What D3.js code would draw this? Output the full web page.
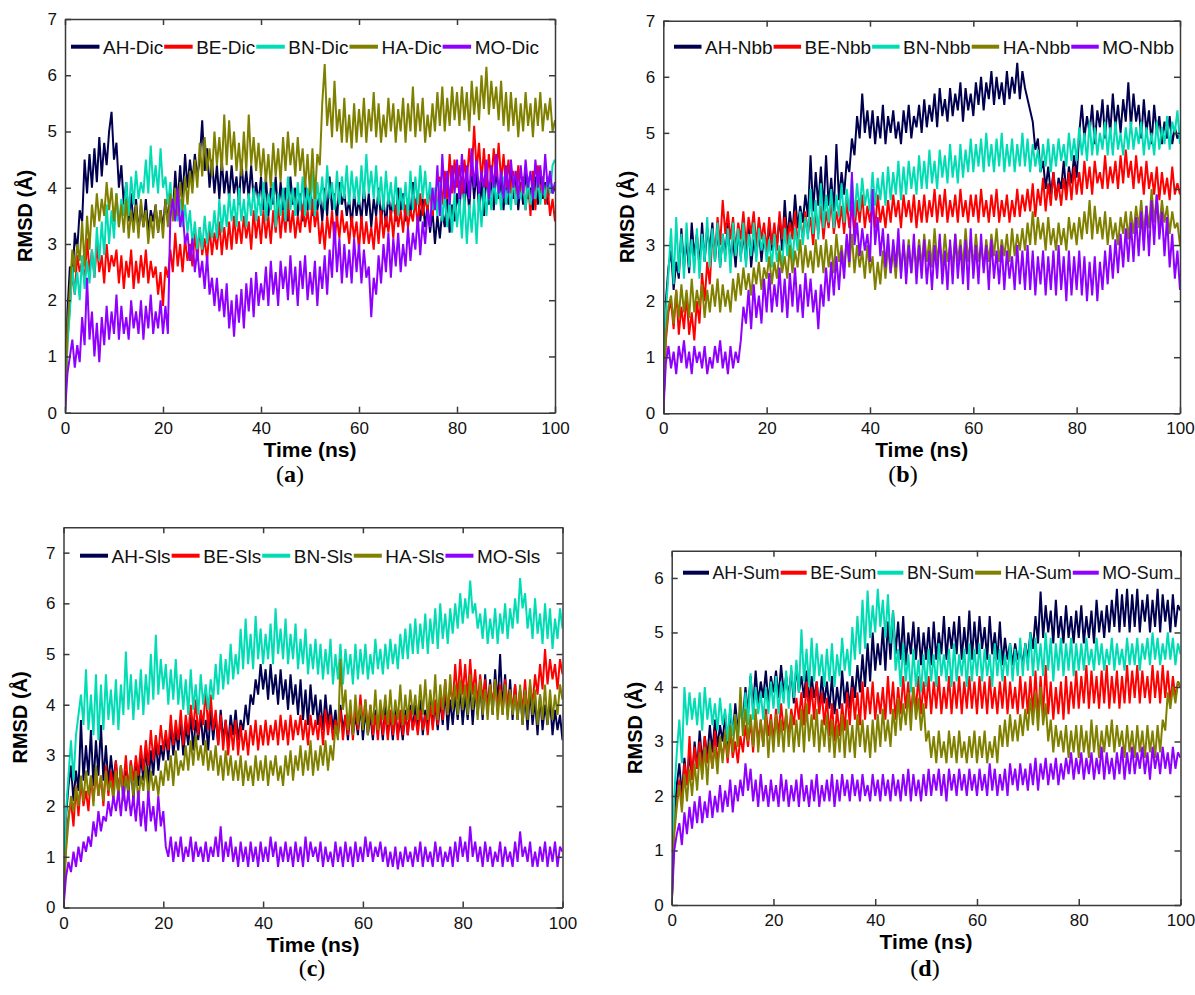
<!DOCTYPE html>
<html>
<head>
<meta charset="utf-8">
<script src="https://cdn.jsdelivr.net/npm/d3@7"></script>
<style>
	body { margin: 0; background: #fff; }
	svg { display: block; font-family: Arial, 'Liberation Sans', sans-serif; }
</style>
</head>
<body>
<script>
// -----------------------------DATA (RMSD in Å, one frame every 0.5 ns)--------------------------------

const timeNs = d3.range(0, 100.5, 0.5);
const groups = ['AH', 'BE', 'BN', 'HA', 'MO'];
const groupColors = ['#00004f', '#ff0000', '#00dcb4', '#808000', '#8f00ff'];
const xTicks = [0, 20, 40, 60, 80, 100];
const yTicks7 = [0, 1, 2, 3, 4, 5, 6, 7];
const yTicks6 = [0, 1, 2, 3, 4, 5, 6];

// (a) Dic, each row holds 10 ns
const ahDic = [0,
	1.8, 2.6, 2.3, 3.2, 2.9, 3.6, 3.4, 4.5, 3.9, 4.6, 4.0, 4.7, 4.1, 4.9, 4.2, 4.8, 4.4, 5.0, 5.35, 4.5,
	4.8, 4.0, 4.4, 3.7, 4.1, 3.4, 3.9, 3.3, 3.8, 3.2, 3.7, 3.3, 3.8, 3.2, 3.6, 3.4, 3.7, 3.2, 3.6, 3.3,
	3.8, 3.4, 3.9, 3.5, 4.3, 3.7, 4.4, 3.8, 4.6, 4.0, 4.5, 4.1, 4.6, 4.2, 4.5, 5.2, 4.3, 4.7, 4.0, 4.5,
	3.9, 4.4, 3.8, 4.5, 3.9, 4.3, 3.8, 4.4, 3.9, 4.2, 3.7, 4.5, 3.9, 4.3, 3.8, 4.4, 3.8, 4.1, 3.7, 4.2,
	3.6, 4.2, 3.5, 4.0, 3.7, 4.2, 3.5, 4.1, 3.6, 4.0, 3.4, 4.2, 3.7, 4.0, 3.5, 3.9, 3.4, 4.1, 3.6, 4.0,
	3.5, 4.1, 3.6, 3.9, 3.4, 4.0, 3.5, 4.2, 3.6, 3.9, 3.4, 4.1, 3.7, 3.9, 3.5, 3.8, 3.3, 3.9, 3.5, 3.8,
	3.4, 4.0, 3.5, 3.9, 3.3, 3.8, 3.5, 4.0, 3.4, 3.8, 3.3, 3.9, 3.5, 3.8, 3.4, 4.0, 3.6, 3.9, 3.4, 3.8,
	3.5, 4.1, 3.6, 3.9, 3.4, 3.8, 3.3, 3.7, 3.2, 3.6, 3.0, 3.5, 3.1, 3.6, 3.3, 3.8, 3.2, 3.7, 3.4, 3.9,
	3.6, 4.2, 3.7, 4.1, 3.6, 4.4, 3.8, 4.3, 3.6, 4.1, 3.5, 4.3, 3.7, 4.2, 3.6, 4.4, 3.8, 4.1, 3.6, 4.2,
	3.7, 4.3, 3.8, 4.2, 3.6, 4.1, 3.7, 4.3, 3.8, 4.0, 3.6, 4.2, 3.7, 4.3, 3.8, 4.1, 3.7, 4.2, 3.9, 4.0];
const beDic = [0,
	1.3, 1.9, 2.5, 2.1, 2.8, 2.5, 2.7, 2.3, 3.1, 2.5, 2.9, 2.4, 3.0, 2.5, 2.8, 2.3, 3.0, 2.5, 2.8, 2.6,
	2.9, 2.3, 2.8, 2.2, 2.7, 2.4, 2.9, 2.2, 2.7, 2.3, 2.8, 2.4, 2.9, 2.3, 2.7, 2.4, 2.6, 2.1, 2.5, 1.9,
	2.6, 2.4, 2.9, 2.5, 3.2, 2.6, 3.0, 2.5, 3.1, 2.7, 3.0, 2.6, 3.2, 2.7, 3.3, 2.8, 3.1, 2.7, 3.3, 2.8,
	3.2, 2.9, 3.4, 2.8, 3.3, 2.9, 3.4, 2.9, 3.5, 3.0, 3.4, 3.0, 3.5, 3.1, 3.4, 2.9, 3.6, 3.1, 3.5, 3.0,
	3.6, 3.1, 3.5, 3.0, 3.6, 3.2, 3.7, 3.1, 3.6, 3.2, 3.8, 3.2, 3.6, 3.1, 3.5, 3.2, 3.7, 3.3, 3.6, 3.2,
	3.8, 3.3, 3.6, 3.0, 3.4, 2.9, 3.5, 3.1, 3.6, 3.0, 3.5, 3.1, 3.6, 3.2, 3.4, 3.0, 3.5, 3.1, 3.4, 2.9,
	3.5, 3.0, 3.4, 3.0, 3.3, 2.9, 3.5, 3.0, 3.6, 3.1, 3.5, 3.2, 3.6, 3.1, 3.7, 3.3, 3.6, 3.2, 3.7, 3.3,
	3.6, 3.4, 3.8, 3.3, 3.9, 3.5, 3.8, 3.6, 4.0, 3.5, 3.9, 3.6, 4.2, 3.7, 4.3, 3.8, 4.6, 3.9, 4.5, 4.0,
	4.4, 3.9, 4.5, 4.1, 4.7, 4.2, 5.1, 4.3, 4.8, 4.1, 4.7, 4.0, 4.6, 4.1, 4.7, 4.2, 4.8, 4.1, 4.6, 4.0,
	4.5, 3.9, 4.3, 3.7, 4.4, 3.8, 4.2, 3.6, 4.1, 3.5, 4.3, 3.6, 4.4, 3.8, 4.2, 3.7, 4.0, 3.5, 3.8, 3.4];
const bnDic = [0,
	1.2, 1.8, 2.6, 2.1, 2.5, 2.0, 2.8, 2.2, 2.7, 2.3, 2.9, 2.4, 3.3, 2.7, 3.4, 2.8, 3.7, 3.0, 3.6, 3.1,
	3.9, 3.3, 3.8, 3.5, 4.1, 3.5, 4.2, 3.7, 4.3, 3.8, 4.1, 3.9, 4.5, 3.9, 4.75, 4.0, 4.4, 3.9, 4.7, 4.0,
	4.2, 3.7, 4.1, 3.5, 3.9, 3.4, 3.8, 3.3, 3.7, 3.2, 3.6, 3.0, 3.4, 2.9, 3.3, 2.9, 3.5, 3.0, 3.4, 3.1,
	3.6, 3.1, 3.8, 3.2, 3.7, 3.3, 3.9, 3.4, 3.8, 3.3, 4.0, 3.4, 3.8, 3.3, 3.9, 3.5, 4.0, 3.4, 3.9, 3.5,
	4.1, 3.4, 3.9, 3.6, 4.1, 3.3, 3.9, 3.5, 4.0, 3.4, 4.2, 3.6, 4.0, 3.5, 4.1, 3.6, 4.2, 3.5, 4.0, 3.6,
	4.3, 3.5, 4.1, 3.7, 4.2, 3.6, 4.4, 3.8, 4.1, 3.6, 4.3, 3.7, 4.2, 3.8, 4.4, 3.7, 4.3, 3.8, 4.2, 3.7,
	4.4, 3.8, 4.6, 3.9, 4.3, 3.8, 4.4, 3.7, 4.2, 3.6, 4.3, 3.7, 4.1, 3.6, 4.2, 3.5, 4.0, 3.6, 4.1, 3.5,
	4.3, 3.6, 4.2, 3.7, 4.4, 3.8, 4.3, 3.7, 4.1, 3.6, 4.0, 3.5, 4.1, 3.4, 3.9, 3.3, 3.8, 3.2, 3.9, 3.3,
	3.8, 3.1, 3.9, 3.0, 3.7, 3.2, 3.8, 3.0, 3.9, 3.3, 4.0, 3.5, 4.1, 3.6, 4.2, 3.7, 4.1, 3.6, 4.2, 3.7,
	4.1, 3.6, 4.2, 3.7, 4.0, 3.8, 4.1, 3.6, 4.2, 3.7, 4.0, 3.8, 4.2, 3.7, 4.1, 3.8, 4.2, 3.9, 4.4, 4.5];
const haDic = [0,
	1.5, 2.2, 2.9, 2.5, 3.0, 2.7, 3.4, 2.6, 3.5, 2.9, 3.7, 3.3, 3.9, 3.4, 3.8, 3.5, 4.1, 3.6, 4.0, 3.4,
	3.9, 3.3, 3.7, 3.2, 3.8, 3.1, 3.6, 3.2, 3.7, 3.1, 3.8, 3.3, 3.6, 3.0, 3.5, 3.1, 3.7, 3.2, 3.6, 3.1,
	3.8, 3.3, 3.9, 3.4, 4.0, 3.5, 4.1, 3.6, 4.2, 3.7, 4.3, 3.9, 4.5, 4.0, 4.8, 4.2, 4.9, 4.3, 4.7, 4.2,
	5.0, 4.4, 4.9, 4.3, 5.3, 4.4, 5.2, 4.5, 5.0, 4.3, 4.8, 4.2, 5.0, 4.3, 5.3, 4.4, 4.9, 4.3, 4.8, 4.2,
	4.7, 4.1, 4.6, 4.0, 4.8, 4.2, 4.7, 4.1, 4.9, 4.3, 5.0, 4.4, 4.8, 4.2, 4.9, 4.3, 4.7, 4.0, 4.6, 3.9,
	4.7, 3.8, 4.6, 4.4, 5.5, 6.2, 5.1, 5.6, 4.9, 5.9, 5.0, 5.4, 4.8, 5.6, 4.8, 5.3, 4.7, 5.5, 4.8, 5.4,
	4.9, 5.6, 4.8, 5.4, 5.0, 5.7, 4.9, 5.5, 4.8, 5.3, 4.9, 5.6, 5.0, 5.5, 4.8, 5.4, 5.0, 5.6, 4.8, 5.5,
	5.0, 5.8, 4.9, 5.5, 5.0, 5.6, 4.8, 5.3, 4.9, 5.5, 5.0, 5.7, 5.1, 5.8, 5.0, 5.6, 5.1, 5.8, 5.2, 5.7,
	5.1, 5.8, 5.2, 5.7, 5.0, 5.9, 5.3, 5.8, 5.2, 6.0, 5.4, 6.15, 5.3, 5.9, 5.4, 5.8, 5.2, 5.9, 5.1, 5.7,
	5.0, 5.7, 5.1, 5.6, 4.9, 5.5, 5.0, 5.7, 5.1, 5.5, 4.9, 5.6, 5.1, 5.7, 5.0, 5.5, 5.2, 5.6, 5.0, 5.2];
const moDic = [0,
	0.7, 1.0, 1.3, 0.8, 1.2, 0.9, 1.7, 1.2, 2.4, 1.3, 1.8, 1.0, 1.6, 0.9, 1.7, 1.2, 1.9, 1.3, 1.8, 1.4,
	2.1, 1.3, 1.9, 1.4, 1.7, 1.3, 2.0, 1.5, 1.8, 1.4, 2.0, 1.3, 1.9, 1.5, 2.1, 1.4, 1.8, 1.5, 2.0, 1.4,
	1.9, 1.4, 3.5, 3.8, 3.4, 4.0, 3.3, 3.6, 3.0, 3.2, 2.7, 3.1, 2.5, 2.9, 2.4, 2.7, 2.2, 2.8, 2.1, 2.4,
	1.9, 2.4, 1.8, 2.2, 1.7, 2.3, 1.5, 2.0, 1.35, 2.1, 1.6, 2.2, 1.5, 2.3, 1.8, 2.4, 1.7, 2.5, 1.9, 2.3,
	2.0, 2.6, 1.9, 2.7, 2.1, 2.5, 1.9, 2.7, 2.2, 2.6, 2.0, 2.8, 2.1, 2.6, 1.9, 2.7, 2.2, 2.8, 2.0, 2.5,
	2.1, 2.7, 1.9, 2.6, 2.2, 2.8, 2.1, 2.9, 2.4, 3.4, 2.5, 3.1, 2.3, 3.0, 2.4, 2.9, 2.3, 3.1, 2.5, 3.0,
	2.3, 2.9, 2.4, 2.6, 1.7, 2.4, 2.1, 2.8, 2.3, 3.0, 2.5, 3.2, 2.4, 3.1, 2.6, 3.2, 2.5, 3.0, 2.6, 3.3,
	2.7, 3.2, 2.9, 3.5, 2.8, 3.4, 3.0, 3.6, 3.3, 4.0, 3.6, 4.4, 3.5, 4.6, 3.8, 4.3, 3.7, 4.4, 3.9, 4.5,
	3.8, 4.6, 3.9, 4.4, 3.8, 4.7, 4.0, 4.5, 3.9, 4.3, 4.0, 4.5, 3.8, 4.4, 4.0, 4.6, 3.9, 4.3, 3.8, 4.4,
	3.9, 4.5, 4.0, 4.3, 3.8, 4.4, 3.9, 4.5, 4.0, 4.3, 3.8, 4.5, 4.0, 4.4, 3.9, 4.6, 4.0, 4.3, 3.9, 4.1];

// (b) Nbb
const ahNbb = [0,
	2.0, 2.6, 2.9, 2.2, 2.7, 2.4, 3.3, 2.6, 3.1, 2.5, 3.4, 2.8, 3.2, 2.6, 3.4, 2.7, 3.3, 2.9, 3.4, 2.7,
	3.3, 2.6, 3.2, 2.8, 3.4, 2.7, 3.1, 2.6, 3.3, 2.8, 3.2, 2.7, 3.4, 2.6, 3.1, 2.8, 3.3, 2.7, 3.2, 2.8,
	3.4, 2.9, 3.3, 3.0, 3.5, 2.9, 3.8, 3.1, 3.6, 3.2, 3.9, 3.3, 3.7, 3.4, 3.9, 3.5, 4.6, 3.6, 4.3, 3.7,
	4.4, 3.6, 4.6, 3.7, 4.2, 3.6, 4.8, 3.8, 4.3, 3.9, 4.5, 4.3, 4.9, 4.6, 5.3, 4.9, 5.7, 5.0, 5.4, 4.9,
	5.4, 4.8, 5.3, 4.9, 5.5, 4.8, 5.3, 5.0, 5.4, 4.9, 5.2, 4.8, 5.4, 5.0, 5.5, 4.9, 5.3, 5.1, 5.5, 5.0,
	5.6, 5.1, 5.5, 5.2, 5.7, 5.1, 5.8, 5.3, 5.6, 5.2, 5.8, 5.3, 5.7, 5.4, 5.9, 5.2, 5.8, 5.4, 5.7, 5.3,
	5.9, 5.5, 6.0, 5.4, 5.9, 5.6, 6.1, 5.5, 6.0, 5.6, 5.9, 5.5, 6.1, 5.6, 6.0, 5.7, 6.25, 5.6, 6.1, 5.8,
	5.6, 5.4, 5.2, 4.7, 4.9, 4.3, 4.5, 4.0, 4.4, 3.9, 4.3, 3.8, 4.2, 4.0, 4.5, 3.9, 4.4, 4.1, 4.6, 4.2,
	5.0, 5.5, 4.9, 5.3, 5.0, 5.5, 4.8, 5.4, 5.1, 5.6, 4.9, 5.5, 5.0, 5.7, 5.1, 5.5, 5.0, 5.6, 5.2, 5.9,
	5.1, 5.7, 5.2, 5.5, 4.9, 5.6, 5.0, 5.4, 4.8, 5.5, 5.0, 5.3, 4.8, 5.2, 4.9, 5.3, 4.8, 5.1, 4.9, 5.0];
const beNbb = [0,
	1.3, 1.8, 2.0, 1.5, 2.2, 1.4, 1.9, 1.5, 2.1, 1.4, 1.8, 1.3, 2.0, 1.6, 2.5, 2.0, 2.7, 2.3, 3.2, 2.8,
	3.5, 3.0, 3.8, 3.2, 3.6, 3.1, 3.5, 2.9, 3.4, 3.1, 3.6, 3.0, 3.5, 3.2, 3.6, 3.0, 3.5, 3.1, 3.4, 2.9,
	3.5, 3.0, 3.4, 2.9, 3.6, 3.1, 3.5, 3.0, 3.4, 3.1, 3.6, 3.0, 3.5, 3.1, 3.6, 3.2, 3.5, 3.0, 3.6, 3.2,
	3.7, 3.1, 3.6, 3.3, 3.8, 3.2, 3.6, 3.3, 3.7, 3.2, 3.8, 3.3, 3.7, 3.2, 3.8, 3.4, 3.9, 3.3, 3.7, 3.4,
	3.8, 3.3, 3.9, 3.4, 3.7, 3.3, 3.8, 3.4, 3.9, 3.5, 3.8, 3.3, 3.9, 3.5, 3.8, 3.4, 3.9, 3.3, 3.8, 3.4,
	3.9, 3.4, 3.8, 3.5, 4.0, 3.4, 3.9, 3.5, 4.0, 3.4, 3.8, 3.5, 3.9, 3.4, 4.0, 3.5, 3.8, 3.4, 3.9, 3.5,
	3.9, 3.4, 4.0, 3.5, 3.8, 3.4, 3.9, 3.5, 4.0, 3.4, 3.8, 3.5, 3.9, 3.4, 3.8, 3.5, 4.0, 3.5, 3.9, 3.6,
	4.0, 3.6, 4.1, 3.5, 4.0, 3.7, 4.2, 3.6, 4.1, 3.7, 4.3, 3.8, 4.1, 3.7, 4.2, 3.8, 4.3, 3.8, 4.4, 3.9,
	4.3, 3.9, 4.5, 4.0, 4.4, 3.9, 4.5, 4.1, 4.3, 4.0, 4.6, 4.0, 4.4, 4.1, 4.5, 4.0, 4.6, 4.1, 4.7, 4.2,
	4.5, 4.0, 4.6, 4.1, 4.4, 3.9, 4.5, 4.0, 4.3, 3.9, 4.4, 3.8, 4.3, 3.9, 4.2, 3.8, 4.4, 3.9, 4.1, 3.9];
const bnNbb = [0,
	1.8, 2.5, 3.3, 2.3, 3.5, 2.5, 3.2, 2.4, 3.4, 2.6, 3.1, 2.5, 3.3, 2.4, 3.2, 2.7, 3.5, 2.6, 3.3, 2.7,
	3.4, 2.6, 3.2, 2.7, 3.3, 2.5, 3.4, 2.8, 3.3, 2.7, 3.4, 2.6, 3.2, 2.8, 3.4, 2.7, 3.3, 2.9, 3.2, 2.7,
	3.1, 2.6, 3.2, 2.7, 3.0, 2.6, 3.3, 2.8, 3.2, 2.7, 3.3, 2.9, 3.6, 3.0, 3.5, 3.1, 4.0, 3.2, 3.8, 3.1,
	4.1, 3.3, 3.9, 3.4, 4.0, 3.3, 3.9, 3.5, 4.1, 3.4, 4.0, 3.6, 4.2, 3.5, 4.1, 3.6, 4.2, 3.7, 4.0, 3.6,
	4.3, 3.7, 4.2, 3.8, 4.3, 3.7, 4.4, 3.8, 4.3, 3.9, 4.5, 3.8, 4.4, 3.9, 4.5, 4.0, 4.4, 3.9, 4.6, 4.0,
	4.5, 4.0, 4.7, 4.1, 4.5, 4.0, 4.7, 4.2, 4.6, 4.1, 4.8, 4.2, 4.6, 4.1, 4.8, 4.2, 4.7, 4.3, 4.9, 4.3,
	4.8, 4.4, 4.9, 4.3, 5.0, 4.4, 4.8, 4.3, 4.9, 4.4, 5.0, 4.3, 4.8, 4.4, 4.9, 4.3, 4.8, 4.4, 5.0, 4.4,
	4.9, 4.3, 4.8, 4.4, 4.7, 4.3, 4.8, 4.4, 4.9, 4.3, 4.8, 4.4, 4.9, 4.5, 4.8, 4.4, 5.0, 4.5, 4.9, 4.5,
	5.1, 4.6, 5.0, 4.5, 5.2, 4.6, 5.1, 4.6, 5.0, 4.7, 5.2, 4.6, 5.1, 4.6, 5.2, 4.7, 5.0, 4.6, 5.1, 4.7,
	5.2, 4.7, 5.1, 4.8, 5.2, 4.6, 5.1, 4.7, 5.0, 4.6, 5.2, 4.7, 5.1, 4.8, 5.3, 4.7, 5.2, 5.0, 5.4, 4.8];
const haNbb = [0,
	1.4, 1.9, 2.1, 1.6, 2.2, 1.7, 2.3, 1.8, 2.2, 1.7, 2.4, 1.8, 2.2, 1.9, 2.3, 1.7, 2.2, 1.8, 2.3, 1.9,
	2.4, 1.8, 2.3, 1.9, 2.2, 1.8, 2.4, 2.0, 2.5, 2.1, 2.6, 2.2, 2.5, 2.1, 2.6, 2.3, 2.7, 2.2, 2.6, 2.4,
	2.8, 2.3, 2.7, 2.4, 2.9, 2.5, 2.8, 2.4, 3.0, 2.5, 2.9, 2.6, 3.1, 2.5, 3.0, 2.6, 2.9, 2.5, 3.1, 2.6,
	3.0, 2.5, 3.1, 2.6, 3.0, 2.5, 3.2, 2.7, 3.0, 2.6, 3.1, 2.6, 3.2, 2.5, 3.0, 2.6, 2.9, 2.4, 3.0, 2.5,
	2.8, 2.2, 2.7, 2.3, 2.9, 2.4, 3.0, 2.5, 2.9, 2.4, 3.1, 2.5, 3.0, 2.6, 3.1, 2.5, 3.0, 2.6, 3.1, 2.6,
	3.2, 2.7, 3.1, 2.6, 3.3, 2.7, 3.1, 2.6, 3.2, 2.7, 3.0, 2.6, 3.2, 2.7, 3.1, 2.6, 3.3, 2.7, 3.1, 2.6,
	3.2, 2.7, 3.0, 2.6, 3.1, 2.7, 3.2, 2.8, 3.3, 2.7, 3.1, 2.8, 3.2, 2.7, 3.3, 2.8, 3.2, 2.9, 3.3, 2.9,
	3.4, 3.0, 3.6, 3.0, 3.5, 3.1, 3.4, 2.9, 3.5, 3.0, 3.3, 2.9, 3.4, 3.0, 3.3, 2.9, 3.5, 3.1, 3.4, 3.0,
	3.5, 3.1, 3.6, 3.2, 3.8, 3.1, 3.7, 3.2, 3.5, 3.1, 3.6, 3.0, 3.5, 3.1, 3.4, 3.0, 3.5, 3.2, 3.6, 3.1,
	3.6, 3.2, 3.7, 3.3, 3.8, 3.2, 3.7, 3.3, 4.0, 3.4, 3.9, 3.3, 3.8, 3.4, 3.7, 3.2, 3.6, 3.3, 3.4, 3.0];
const moNbb = [0,
	0.9, 1.2, 0.8, 1.1, 0.7, 1.2, 0.9, 1.3, 0.8, 1.1, 0.7, 1.2, 0.9, 1.1, 0.8, 1.2, 0.7, 1.0, 0.8, 1.2,
	0.9, 1.3, 0.8, 1.1, 0.7, 1.2, 0.8, 1.1, 0.9, 1.3, 1.9, 1.6, 2.2, 1.5, 2.3, 1.7, 2.1, 1.6, 2.4, 1.8,
	2.5, 1.8, 2.3, 1.9, 2.6, 1.8, 2.4, 1.7, 2.5, 1.9, 2.6, 1.8, 2.3, 1.7, 2.5, 1.9, 2.4, 1.8, 2.2, 1.5,
	2.3, 1.9, 2.6, 2.0, 2.7, 2.1, 2.8, 2.2, 2.9, 2.4, 3.2, 2.7, 4.3, 3.0, 3.4, 2.8, 3.3, 2.9, 3.2, 2.7,
	4.0, 3.0, 3.5, 2.8, 3.3, 2.6, 3.2, 2.5, 3.1, 2.6, 3.3, 2.4, 3.1, 2.3, 3.0, 2.5, 3.2, 2.3, 3.0, 2.4,
	3.1, 2.3, 2.9, 2.2, 3.0, 2.4, 3.2, 2.3, 2.9, 2.2, 3.1, 2.3, 3.2, 2.4, 3.0, 2.3, 3.1, 2.2, 3.3, 2.4,
	3.0, 2.3, 3.2, 2.5, 3.0, 2.2, 3.1, 2.4, 2.9, 2.3, 3.0, 2.2, 2.9, 2.4, 2.8, 2.2, 3.0, 2.3, 2.9, 2.2,
	3.0, 2.2, 2.9, 2.1, 2.8, 2.3, 2.9, 2.1, 2.8, 2.2, 2.9, 2.1, 3.0, 2.2, 2.8, 2.0, 2.9, 2.1, 2.8, 2.2,
	2.9, 2.1, 2.8, 2.0, 2.7, 2.1, 2.8, 2.0, 2.7, 2.2, 2.9, 2.3, 3.0, 2.4, 3.1, 2.5, 3.2, 2.6, 3.3, 2.7,
	3.4, 2.7, 3.5, 2.8, 3.6, 2.9, 3.7, 2.8, 3.8, 3.0, 3.9, 3.1, 3.6, 2.8, 3.5, 2.6, 3.2, 2.4, 2.9, 2.2];

// (c) Sls
const ahSls = [0,
	1.8, 2.4, 2.8, 2.1, 2.7, 2.3, 3.7, 2.5, 3.2, 2.6, 3.5, 2.4, 3.3, 2.6, 3.6, 2.5, 3.2, 2.4, 3.0, 2.5,
	2.9, 2.2, 2.8, 2.1, 2.7, 2.2, 2.9, 2.1, 2.8, 2.4, 3.0, 2.5, 3.2, 2.4, 3.1, 2.6, 3.3, 2.7, 3.2, 2.9,
	3.4, 2.9, 3.6, 3.0, 3.5, 3.1, 3.7, 3.0, 3.6, 3.2, 3.8, 3.1, 3.7, 3.3, 3.8, 3.2, 3.7, 3.1, 3.9, 3.3,
	3.8, 3.2, 3.9, 3.3, 3.7, 3.2, 3.8, 3.4, 3.9, 3.3, 3.7, 3.5, 4.0, 3.6, 4.2, 4.0, 4.5, 4.2, 4.8, 4.3,
	4.7, 4.1, 4.8, 4.2, 4.6, 4.0, 4.7, 4.1, 4.5, 3.9, 4.6, 4.0, 4.4, 3.8, 4.5, 3.7, 4.3, 3.6, 4.4, 3.8,
	4.2, 3.6, 4.1, 3.5, 4.2, 3.6, 4.0, 3.5, 3.9, 3.4, 4.0, 3.5, 3.8, 3.3, 3.9, 3.4, 3.8, 3.4, 4.0, 3.3,
	3.9, 3.4, 3.8, 3.3, 3.9, 3.5, 3.8, 3.3, 4.0, 3.4, 3.8, 3.3, 3.9, 3.4, 3.7, 3.3, 3.9, 3.4, 4.0, 3.5,
	4.0, 3.5, 4.1, 3.4, 3.9, 3.5, 4.2, 3.6, 4.0, 3.5, 4.1, 3.6, 4.3, 3.5, 4.1, 3.6, 4.2, 3.7, 4.3, 3.6,
	4.2, 3.7, 4.4, 3.6, 4.3, 3.8, 4.4, 3.7, 4.6, 3.9, 4.5, 3.8, 4.7, 4.0, 5.0, 3.9, 4.6, 3.8, 4.5, 3.7,
	4.4, 3.7, 4.3, 3.6, 4.2, 3.5, 4.3, 3.6, 4.1, 3.4, 4.2, 3.5, 4.0, 3.6, 4.1, 3.4, 3.9, 3.5, 3.8, 3.3];
const beSls = [0,
	1.4, 1.8, 2.1, 1.6, 2.4, 1.8, 2.5, 2.0, 2.3, 1.9, 2.6, 2.1, 2.7, 2.2, 2.6, 2.0, 2.8, 2.2, 2.7, 2.3,
	2.9, 2.2, 2.8, 2.4, 3.0, 2.3, 2.9, 2.5, 3.0, 2.6, 3.2, 2.7, 3.3, 2.8, 3.5, 2.9, 3.4, 3.0, 3.6, 3.1,
	3.5, 3.1, 3.8, 3.2, 3.7, 3.3, 3.9, 3.2, 3.8, 3.4, 4.0, 3.5, 4.1, 3.4, 3.9, 3.6, 4.3, 3.5, 4.2, 3.5,
	3.9, 3.2, 3.8, 3.1, 3.7, 3.0, 3.6, 3.1, 3.7, 3.0, 3.6, 3.1, 3.5, 3.0, 3.6, 3.2, 3.7, 3.1, 3.6, 3.2,
	3.7, 3.2, 3.6, 3.3, 3.7, 3.2, 3.8, 3.3, 3.7, 3.2, 3.8, 3.3, 3.7, 3.4, 3.8, 3.3, 3.7, 3.2, 3.8, 3.4,
	3.7, 3.3, 3.8, 3.2, 3.9, 3.4, 3.8, 3.3, 3.7, 3.4, 3.9, 3.3, 3.8, 3.4, 3.9, 3.3, 4.0, 3.5, 4.2, 3.6,
	4.1, 3.5, 4.0, 3.4, 3.8, 3.3, 3.9, 3.4, 3.8, 3.3, 3.9, 3.4, 3.8, 3.3, 3.9, 3.4, 3.8, 3.4, 3.9, 3.5,
	3.8, 3.4, 3.9, 3.5, 3.8, 3.4, 4.0, 3.5, 4.1, 3.6, 4.2, 3.7, 4.5, 3.8, 4.4, 4.0, 4.8, 4.1, 4.9, 4.2,
	4.8, 4.1, 4.9, 4.2, 4.7, 4.0, 4.6, 4.1, 4.5, 3.9, 4.4, 4.0, 4.5, 3.9, 4.4, 3.8, 4.5, 4.0, 4.3, 3.9,
	4.4, 3.8, 4.3, 3.9, 4.5, 3.8, 4.4, 4.0, 4.6, 4.2, 4.8, 4.3, 5.1, 4.4, 4.9, 4.5, 4.8, 4.3, 4.9, 4.6];
const bnSls = [0,
	1.9, 2.6, 3.3, 2.5, 3.4, 3.8, 4.2, 3.6, 4.7, 3.5, 4.2, 3.4, 4.6, 3.3, 4.4, 3.5, 4.6, 3.7, 4.3, 3.6,
	4.5, 3.5, 4.4, 3.8, 5.05, 3.9, 4.6, 3.7, 4.5, 3.9, 4.7, 3.8, 4.6, 4.0, 5.0, 4.1, 5.38, 4.2, 4.9, 4.3,
	4.8, 4.0, 4.7, 4.1, 4.9, 4.0, 4.6, 3.9, 4.5, 3.8, 4.7, 3.9, 4.4, 3.8, 4.6, 4.0, 4.4, 3.9, 4.5, 4.1,
	4.8, 4.2, 5.0, 4.3, 4.9, 4.4, 5.2, 4.5, 5.0, 4.6, 5.5, 4.7, 5.7, 4.8, 5.4, 4.7, 5.75, 4.9, 5.5, 4.8,
	5.4, 4.9, 5.6, 4.8, 5.9, 5.0, 5.5, 4.9, 5.7, 4.8, 5.4, 4.9, 5.6, 4.7, 5.3, 4.8, 5.5, 4.6, 5.2, 4.7,
	5.3, 4.6, 5.2, 4.5, 5.1, 4.6, 5.3, 4.4, 5.0, 4.5, 5.2, 4.4, 5.1, 4.6, 5.0, 4.4, 5.2, 4.5, 5.1, 4.6,
	5.2, 4.5, 5.0, 4.6, 5.3, 4.7, 5.1, 4.6, 5.2, 4.7, 5.3, 4.8, 5.2, 4.7, 5.4, 4.9, 5.5, 4.9, 5.6, 5.0,
	5.7, 5.0, 5.6, 5.1, 5.8, 5.0, 5.7, 5.2, 5.9, 5.1, 6.0, 5.3, 5.8, 5.2, 5.9, 5.4, 6.0, 5.5, 6.2, 5.6,
	6.1, 5.7, 6.45, 5.8, 6.0, 5.5, 5.8, 5.3, 5.9, 5.2, 5.7, 5.3, 5.9, 5.2, 5.8, 5.4, 6.0, 5.3, 5.9, 5.5,
	6.1, 5.6, 6.5, 5.9, 6.2, 5.5, 5.9, 5.3, 6.1, 5.4, 5.8, 5.2, 6.0, 5.3, 5.9, 5.1, 5.7, 5.3, 5.9, 5.5];
const haSls = [0,
	1.1, 1.7, 2.2, 1.9, 2.4, 2.0, 2.6, 2.1, 2.7, 2.2, 2.6, 2.0, 2.8, 2.2, 2.6, 2.1, 2.7, 2.3, 2.5, 2.1,
	2.7, 2.2, 2.8, 2.1, 2.6, 2.3, 2.8, 2.2, 2.7, 2.1, 2.6, 2.3, 2.8, 2.2, 2.7, 2.3, 2.6, 2.2, 2.7, 2.4,
	2.9, 2.5, 3.0, 2.4, 3.1, 2.6, 2.9, 2.7, 3.2, 2.7, 3.3, 2.8, 3.4, 2.9, 3.2, 2.8, 3.3, 2.7, 3.1, 2.7,
	3.2, 2.6, 3.0, 2.5, 3.1, 2.6, 3.0, 2.5, 2.9, 2.5, 3.0, 2.4, 2.9, 2.5, 2.8, 2.4, 3.0, 2.5, 2.9, 2.5,
	3.0, 2.4, 2.9, 2.6, 3.0, 2.5, 2.8, 2.4, 3.0, 2.6, 3.1, 2.5, 3.0, 2.7, 3.2, 2.6, 3.1, 2.7, 3.3, 2.6,
	3.1, 2.7, 3.2, 2.8, 3.3, 2.7, 3.2, 2.9, 3.6, 3.3, 4.9, 3.9, 4.3, 3.5, 4.1, 3.4, 4.2, 3.6, 4.0, 3.5,
	4.1, 3.4, 4.0, 3.6, 4.3, 3.5, 4.1, 3.7, 4.2, 3.6, 4.3, 3.6, 4.1, 3.7, 4.4, 3.6, 4.2, 3.7, 4.3, 3.8,
	4.2, 3.7, 4.4, 3.8, 4.5, 3.7, 4.3, 3.8, 4.6, 3.7, 4.4, 3.9, 4.5, 3.8, 4.6, 3.9, 4.4, 3.8, 4.5, 3.9,
	4.4, 3.8, 4.6, 3.9, 4.4, 3.7, 4.5, 3.8, 4.3, 3.7, 4.4, 3.8, 4.5, 3.7, 4.3, 3.8, 4.4, 3.7, 4.3, 3.8,
	4.2, 3.7, 4.4, 3.6, 4.3, 3.7, 4.5, 3.8, 4.3, 3.6, 4.2, 3.7, 4.4, 3.6, 4.3, 3.7, 4.2, 3.8, 4.4, 4.1];
const moSls = [0,
	0.6, 0.9, 0.7, 1.1, 0.8, 1.2, 0.9, 1.3, 1.1, 1.4, 1.2, 1.7, 1.4, 1.9, 1.5, 1.8, 1.7, 2.1, 1.8, 2.2,
	1.9, 2.3, 1.8, 2.4, 1.9, 2.3, 1.8, 2.2, 1.7, 2.3, 1.6, 2.1, 1.5, 2.3, 1.7, 2.0, 1.5, 2.2, 1.6, 1.9,
	1.2, 1.0, 1.4, 0.9, 1.3, 1.0, 1.4, 0.9, 1.2, 1.0, 1.4, 0.9, 1.3, 1.0, 1.2, 0.9, 1.3, 0.9, 1.2, 1.0,
	1.4, 1.0, 1.6, 0.9, 1.3, 1.0, 1.4, 0.9, 1.2, 0.8, 1.3, 0.9, 1.2, 0.8, 1.3, 0.9, 1.2, 0.8, 1.3, 0.9,
	1.2, 0.9, 1.4, 1.0, 1.3, 0.8, 1.2, 0.9, 1.3, 0.9, 1.2, 0.8, 1.3, 0.9, 1.2, 0.8, 1.4, 0.9, 1.3, 1.0,
	1.2, 0.9, 1.3, 0.8, 1.2, 0.9, 1.1, 0.8, 1.3, 0.9, 1.2, 0.8, 1.3, 0.9, 1.2, 0.8, 1.3, 0.9, 1.2, 0.9,
	1.4, 1.0, 1.3, 0.9, 1.2, 1.0, 1.3, 0.9, 1.2, 0.8, 1.1, 0.8, 1.2, 0.75, 1.1, 0.8, 1.2, 0.9, 1.1, 0.8,
	1.2, 0.9, 1.3, 0.8, 1.2, 0.9, 1.1, 0.8, 1.3, 0.9, 1.2, 0.8, 1.1, 0.9, 1.2, 0.8, 1.3, 0.9, 1.4, 1.0,
	1.3, 0.9, 1.6, 1.0, 1.3, 0.9, 1.2, 0.8, 1.3, 0.9, 1.2, 0.8, 1.1, 0.9, 1.3, 0.8, 1.2, 0.9, 1.1, 0.8,
	1.3, 0.9, 1.5, 1.0, 1.2, 0.9, 1.3, 0.8, 1.1, 0.8, 1.2, 0.9, 1.3, 0.8, 1.2, 0.9, 1.3, 0.8, 1.2, 1.1];

// (d) Sum
const ahSum = [0,
	1.6, 2.2, 2.6, 2.0, 2.7, 2.2, 2.8, 2.3, 3.0, 2.5, 3.2, 2.6, 3.1, 2.7, 3.3, 2.8, 3.4, 2.9, 3.3, 3.0,
	3.5, 2.9, 3.6, 3.1, 3.7, 3.2, 3.6, 3.4, 4.0, 3.5, 4.2, 3.6, 4.3, 3.7, 4.1, 3.8, 4.3, 3.7, 4.2, 3.9,
	4.3, 3.8, 4.4, 3.9, 4.2, 3.8, 4.3, 3.7, 4.4, 3.9, 4.2, 3.8, 4.3, 3.7, 4.2, 3.8, 4.1, 3.6, 4.2, 3.7,
	4.1, 3.6, 4.2, 3.5, 4.0, 3.6, 4.3, 3.7, 4.1, 3.6, 4.2, 3.8, 4.4, 3.9, 4.6, 4.0, 4.8, 4.1, 5.0, 4.3,
	4.8, 4.4, 5.1, 4.3, 5.2, 4.5, 5.4, 4.6, 5.2, 4.5, 5.3, 4.4, 5.0, 4.6, 5.2, 4.5, 5.1, 4.4, 5.0, 4.5,
	5.1, 4.4, 5.2, 4.5, 5.0, 4.6, 5.3, 4.5, 5.1, 4.7, 5.2, 4.6, 5.3, 4.5, 5.1, 4.6, 5.4, 4.5, 5.2, 4.6,
	5.3, 4.7, 5.1, 4.5, 5.3, 4.6, 5.0, 4.5, 5.2, 4.4, 4.9, 4.5, 4.8, 4.4, 4.8, 4.5, 4.7, 4.4, 4.8, 4.5,
	5.0, 4.7, 5.3, 4.8, 5.75, 4.9, 5.5, 5.0, 5.4, 4.8, 5.6, 4.9, 5.3, 4.8, 5.5, 4.9, 5.3, 4.8, 5.4, 4.9,
	5.5, 4.8, 5.3, 4.9, 5.4, 4.8, 5.6, 5.0, 5.4, 4.9, 5.5, 5.0, 5.6, 5.1, 5.8, 5.0, 5.7, 5.1, 5.8, 5.0,
	5.7, 5.1, 5.8, 5.0, 5.6, 5.2, 5.7, 5.0, 5.6, 5.1, 5.8, 5.0, 5.7, 5.2, 5.6, 5.0, 5.7, 5.1, 5.5, 5.4];
const beSum = [0,
	1.4, 1.9, 2.3, 1.8, 2.6, 2.2, 3.1, 2.3, 2.9, 2.5, 3.0, 2.4, 3.1, 2.6, 2.9, 2.5, 3.2, 2.6, 3.0, 2.7,
	3.1, 2.6, 3.2, 2.7, 3.0, 2.6, 3.1, 2.8, 3.3, 2.9, 3.4, 2.8, 3.5, 3.0, 3.4, 2.9, 3.6, 3.1, 3.5, 3.0,
	3.6, 3.1, 3.7, 3.2, 3.5, 3.1, 3.6, 3.3, 3.8, 3.4, 3.9, 3.3, 4.1, 3.5, 4.0, 3.4, 4.1, 3.5, 3.9, 3.3,
	3.8, 3.1, 3.7, 3.0, 3.6, 3.1, 3.7, 3.2, 3.9, 3.3, 4.0, 3.4, 3.9, 3.3, 4.1, 3.4, 4.0, 3.5, 4.1, 3.4,
	3.9, 3.5, 4.0, 3.4, 4.2, 3.5, 4.1, 3.4, 4.0, 3.5, 4.2, 3.6, 4.1, 3.5, 4.0, 3.6, 4.2, 3.5, 4.1, 3.6,
	4.2, 3.5, 4.1, 3.6, 4.2, 3.5, 4.0, 3.6, 4.2, 3.5, 4.1, 3.6, 4.2, 3.5, 4.1, 3.6, 4.2, 3.6, 4.1, 3.5,
	4.2, 3.6, 4.1, 3.5, 4.2, 3.6, 4.0, 3.5, 4.1, 3.6, 4.2, 3.5, 4.1, 3.6, 4.0, 3.5, 4.2, 3.6, 4.1, 3.5,
	4.2, 3.5, 4.3, 3.4, 4.2, 3.5, 4.4, 3.5, 4.1, 3.4, 4.0, 3.5, 4.1, 3.4, 4.2, 3.5, 4.1, 3.6, 4.3, 3.6,
	4.2, 3.7, 4.4, 3.6, 4.3, 3.7, 4.2, 3.6, 4.3, 3.7, 4.4, 3.6, 4.2, 3.7, 4.3, 3.6, 4.2, 3.7, 4.4, 3.7,
	4.3, 3.8, 4.4, 3.7, 4.3, 3.8, 4.2, 3.7, 4.4, 3.8, 4.3, 3.7, 4.4, 3.8, 4.3, 3.7, 4.2, 3.8, 4.1, 4.0];
const bnSum = [0,
	2.0, 2.8, 3.4, 2.6, 4.0, 3.3, 3.9, 3.4, 3.8, 3.3, 3.9, 3.2, 4.0, 3.4, 3.8, 3.3, 3.7, 3.2, 3.8, 3.3,
	3.6, 3.0, 3.7, 3.1, 3.5, 3.0, 3.8, 3.2, 3.9, 3.3, 4.25, 3.4, 4.0, 3.5, 3.9, 3.4, 4.0, 3.5, 4.1, 3.6,
	4.2, 3.5, 4.1, 3.7, 4.3, 3.6, 4.4, 3.8, 4.5, 3.9, 5.06, 4.1, 4.7, 4.0, 4.9, 4.1, 4.8, 4.2, 4.6, 4.0,
	4.7, 4.1, 4.8, 4.0, 4.6, 4.2, 4.9, 4.3, 4.7, 4.2, 5.1, 4.5, 5.3, 4.6, 5.6, 4.7, 5.77, 4.9, 5.5, 5.0,
	5.8, 5.1, 5.6, 4.9, 5.7, 4.8, 5.4, 4.3, 4.7, 4.0, 4.8, 4.1, 4.6, 3.9, 4.7, 4.0, 4.5, 3.9, 4.6, 4.0,
	4.7, 4.1, 4.6, 4.0, 4.8, 4.2, 4.6, 4.1, 4.7, 4.0, 4.8, 4.1, 4.6, 4.2, 4.7, 4.0, 4.8, 4.1, 4.7, 4.2,
	4.8, 4.1, 4.7, 4.2, 4.6, 4.0, 4.8, 4.2, 4.7, 4.1, 4.6, 4.2, 4.8, 4.1, 4.7, 4.2, 4.9, 4.2, 4.8, 4.3,
	5.0, 4.2, 4.9, 4.3, 4.8, 4.2, 5.0, 4.3, 4.9, 4.1, 4.8, 4.3, 4.9, 4.2, 4.8, 4.3, 4.9, 4.2, 4.8, 4.3,
	4.8, 4.3, 4.9, 4.4, 4.7, 4.3, 4.9, 4.4, 4.8, 4.3, 4.7, 4.4, 4.9, 4.3, 4.8, 4.4, 4.7, 4.3, 4.9, 4.4,
	4.8, 4.4, 4.9, 4.3, 4.8, 4.5, 4.9, 4.4, 5.0, 4.5, 4.9, 4.4, 4.8, 4.5, 5.0, 4.5, 4.9, 4.4, 4.8, 4.6];
const haSum = [0,
	1.3, 1.8, 2.2, 1.7, 2.4, 1.9, 2.5, 2.0, 2.6, 2.1, 2.8, 2.3, 2.9, 2.2, 3.0, 2.5, 2.9, 2.4, 3.1, 2.6,
	3.2, 2.7, 3.3, 2.8, 3.5, 2.9, 4.0, 3.1, 3.6, 3.0, 3.5, 2.9, 3.6, 2.8, 3.4, 2.9, 3.5, 2.7, 3.4, 2.8,
	3.5, 2.9, 3.4, 2.8, 3.6, 2.9, 3.5, 2.8, 3.4, 2.9, 3.6, 2.8, 3.7, 3.0, 3.5, 2.9, 3.6, 2.8, 3.4, 2.9,
	3.5, 2.8, 3.4, 2.7, 3.3, 2.8, 3.5, 2.7, 3.4, 2.8, 3.3, 2.7, 3.5, 2.9, 3.4, 2.8, 3.3, 2.7, 3.4, 2.8,
	3.5, 2.9, 3.6, 3.0, 3.4, 2.9, 3.6, 3.1, 3.8, 3.2, 3.7, 3.3, 3.9, 3.2, 4.0, 3.4, 3.8, 3.2, 3.7, 3.0,
	3.2, 2.7, 3.1, 2.6, 3.2, 2.7, 3.0, 2.6, 3.2, 2.7, 3.1, 2.6, 3.2, 2.7, 3.0, 2.6, 3.1, 2.7, 3.2, 2.6,
	3.1, 2.7, 3.2, 2.6, 3.0, 2.7, 3.1, 2.6, 3.3, 2.9, 3.4, 2.9, 3.5, 3.0, 3.4, 3.0, 3.5, 3.1, 3.6, 3.2,
	3.8, 3.3, 3.9, 3.2, 4.0, 3.3, 3.7, 3.0, 3.4, 2.8, 3.3, 2.9, 3.2, 2.8, 3.3, 2.7, 3.2, 2.8, 3.3, 2.7,
	3.3, 2.8, 3.2, 2.7, 3.4, 2.8, 3.3, 2.7, 3.2, 2.8, 3.3, 2.9, 3.4, 2.8, 3.3, 2.9, 3.2, 2.7, 3.3, 2.8,
	3.2, 2.7, 3.3, 2.8, 3.2, 2.7, 3.3, 2.8, 3.2, 2.7, 3.3, 2.8, 3.4, 3.2, 3.9, 3.6, 4.0, 3.7, 4.1, 4.0];
const moSum = [0,
	1.0, 1.3, 1.5, 1.1, 1.7, 1.3, 1.8, 1.4, 1.9, 1.5, 2.0, 1.5, 1.9, 1.6, 2.1, 1.6, 2.0, 1.7, 2.2, 1.7,
	2.1, 1.8, 2.3, 1.7, 2.2, 1.9, 2.3, 2.0, 2.6, 2.1, 2.5, 1.9, 2.3, 1.8, 2.4, 1.9, 2.2, 1.8, 2.3, 1.9,
	2.2, 1.8, 2.4, 1.9, 2.3, 1.8, 2.2, 1.9, 2.3, 1.8, 2.4, 1.9, 2.2, 1.8, 2.3, 1.9, 2.4, 1.8, 2.2, 1.9,
	2.3, 1.9, 2.4, 1.8, 2.3, 1.9, 2.4, 2.0, 2.3, 1.9, 2.4, 2.0, 2.3, 1.9, 2.4, 2.0, 2.2, 1.9, 2.4, 2.0,
	2.3, 1.9, 2.4, 2.0, 2.3, 1.9, 2.4, 2.0, 2.3, 1.9, 2.4, 2.0, 2.5, 1.9, 2.4, 2.0, 2.3, 1.9, 2.4, 2.0,
	2.5, 2.0, 2.4, 2.1, 2.5, 2.0, 2.4, 1.9, 2.5, 2.1, 2.4, 2.0, 2.5, 2.1, 2.4, 2.0, 2.5, 2.1, 2.4, 2.0,
	2.5, 2.1, 2.4, 2.0, 2.6, 2.1, 2.5, 2.0, 2.4, 2.1, 2.5, 2.0, 2.6, 2.2, 2.5, 2.1, 2.6, 2.2, 2.5, 2.1,
	2.6, 2.2, 2.7, 2.1, 2.6, 2.3, 2.7, 2.2, 2.6, 2.3, 2.7, 2.2, 2.6, 2.3, 2.7, 2.4, 2.8, 2.3, 2.7, 2.4,
	2.8, 2.3, 2.7, 2.4, 2.8, 2.3, 2.7, 2.4, 2.9, 2.3, 2.8, 2.4, 2.7, 2.3, 2.8, 2.4, 2.9, 2.3, 2.8, 2.4,
	2.9, 2.4, 2.8, 2.5, 2.9, 2.4, 2.8, 2.3, 2.9, 2.5, 2.8, 2.4, 2.9, 2.5, 2.8, 2.4, 2.9, 2.5, 2.8, 2.7];

// -----------------------------PANEL LAYOUT--------------------------------

const panels = [
	{ tag: 'a', ligand: 'Dic', series: [ahDic, beDic, bnDic, haDic, moDic], yMax: 7, yTicks: yTicks7,
		left: 65, right: 555, top: 19, bottom: 412.7, legendX: 71, legendY: 46.7, legendFont: 19, legendStep: 33,
		yTitleX: 25, tagX: 290, tagY: 482 },
	{ tag: 'b', ligand: 'Nbb', series: [ahNbb, beNbb, bnNbb, haNbb, moNbb], yMax: 7, yTicks: yTicks7,
		left: 663.3, right: 1180, top: 20.7, bottom: 413.3, legendX: 674, legendY: 46.7, legendFont: 19, legendStep: 32,
		yTitleX: 627, tagX: 903, tagY: 482 },
	{ tag: 'c', ligand: 'Sls', series: [ahSls, beSls, bnSls, haSls, moSls], yMax: 7.5, yTicks: yTicks7,
		left: 63.5, right: 562.5, top: 527.3, bottom: 907.5, legendX: 80, legendY: 555.7, legendFont: 19, legendStep: 32.5,
		yTitleX: 20, tagX: 312, tagY: 976 },
	{ tag: 'd', ligand: 'Sum', series: [ahSum, beSum, bnSum, haSum, moSum], yMax: 6.5, yTicks: yTicks6,
		left: 671.7, right: 1180.5, top: 550.7, bottom: 905, legendX: 683, legendY: 572.7, legendFont: 17.8, legendStep: 30.5,
		yTitleX: 635, tagX: 925, tagY: 976 },
];

const frameColor = '#3a3a3a';

// -----------------------------DRAW--------------------------------

const svg = d3.select('body').append('svg').attr('width', 1195).attr('height', 995);

panels.forEach((p) => {
	const x = d3.scaleLinear().domain([0, 100]).range([p.left, p.right]);
	const y = d3.scaleLinear().domain([0, p.yMax]).range([p.bottom, p.top]);
	const g = svg.append('g').attr('id', `panel-${p.tag}`);

	g.append('clipPath')
		.attr('id', `clip-${p.tag}`)
		.append('rect')
		.attr('x', p.left)
		.attr('y', p.top)
		.attr('width', p.right - p.left)
		.attr('height', p.bottom - p.top);

	const line = d3
		.line()
		.defined((d, i) => i < timeNs.length)
		.x((d, i) => x(timeNs[i]))
		.y((d) => y(d));

	g.append('g')
		.attr('clip-path', `url(#clip-${p.tag})`)
		.selectAll('path')
		.data(p.series)
		.join('path')
		.attr('d', line)
		.attr('fill', 'none')
		.attr('stroke', (d, i) => groupColors[i])
		.attr('stroke-width', 2)
		.attr('stroke-linejoin', 'bevel');

	// axes, ticks all point inward
	const styleAxis = (sel) => {
		sel.attr('font-size', 17).attr('font-family', null);
		sel.selectAll('path, line').attr('stroke', frameColor).attr('stroke-width', 1.5);
		sel.selectAll('text').attr('fill', '#111');
	};

	g.append('g')
		.attr('transform', `translate(0,${p.bottom})`)
		.call(d3.axisBottom(x).tickValues(xTicks).tickFormat(d3.format('d')).tickSizeInner(-6).tickSizeOuter(0).tickPadding(9))
		.call(styleAxis);
	g.append('g')
		.attr('transform', `translate(0,${p.top})`)
		.call(d3.axisTop(x).tickValues(xTicks).tickSizeInner(-6).tickSizeOuter(0).tickFormat(''))
		.call(styleAxis);
	g.append('g')
		.attr('transform', `translate(${p.left},0)`)
		.call(d3.axisLeft(y).tickValues(p.yTicks).tickFormat(d3.format('d')).tickSizeInner(-6).tickSizeOuter(0).tickPadding(8))
		.call(styleAxis);
	g.append('g')
		.attr('transform', `translate(${p.right},0)`)
		.call(d3.axisRight(y).tickValues(p.yTicks).tickSizeInner(-6).tickSizeOuter(0).tickFormat(''))
		.call(styleAxis);

	// axis titles
	g.append('text')
		.attr('x', (p.left + p.right) / 2)
		.attr('y', p.bottom + 44)
		.attr('text-anchor', 'middle')
		.attr('font-size', 21)
		.attr('font-weight', 'bold')
		.text('Time (ns)');

	g.append('text')
		.attr('transform', `translate(${p.yTitleX},${(p.top + p.bottom) / 2}) rotate(-90)`)
		.attr('text-anchor', 'middle')
		.attr('dy', '0.35em')
		.attr('font-size', 20)
		.attr('font-weight', 'bold')
		.text('RMSD (Å)');

	// legend: line sample then label, laid out in one row
	const legend = g.append('g').attr('font-size', p.legendFont);
	let cursor = p.legendX;
	groups.forEach((name, i) => {
		legend
			.append('line')
			.attr('x1', cursor)
			.attr('x2', cursor + p.legendStep - 4.5)
			.attr('y1', p.legendY)
			.attr('y2', p.legendY)
			.attr('stroke', groupColors[i])
			.attr('stroke-width', 4);
		const label = legend
			.append('text')
			.attr('x', cursor + p.legendStep - 1)
			.attr('y', p.legendY)
			.attr('dy', '0.36em')
			.attr('fill', '#111')
			.text(`${name}-${p.ligand}`);
		cursor = cursor + p.legendStep + label.node().getComputedTextLength();
	});

	// panel tag (a), (b) ...
	const tag = g
		.append('text')
		.attr('x', p.tagX)
		.attr('y', p.tagY)
		.attr('text-anchor', 'middle')
		.attr('font-family', "'Liberation Serif', 'Times New Roman', serif")
		.attr('font-size', 24);
	tag.append('tspan').text('(');
	tag.append('tspan').attr('font-weight', 'bold').text(p.tag);
	tag.append('tspan').text(')');
});
</script>
</body>
</html>
